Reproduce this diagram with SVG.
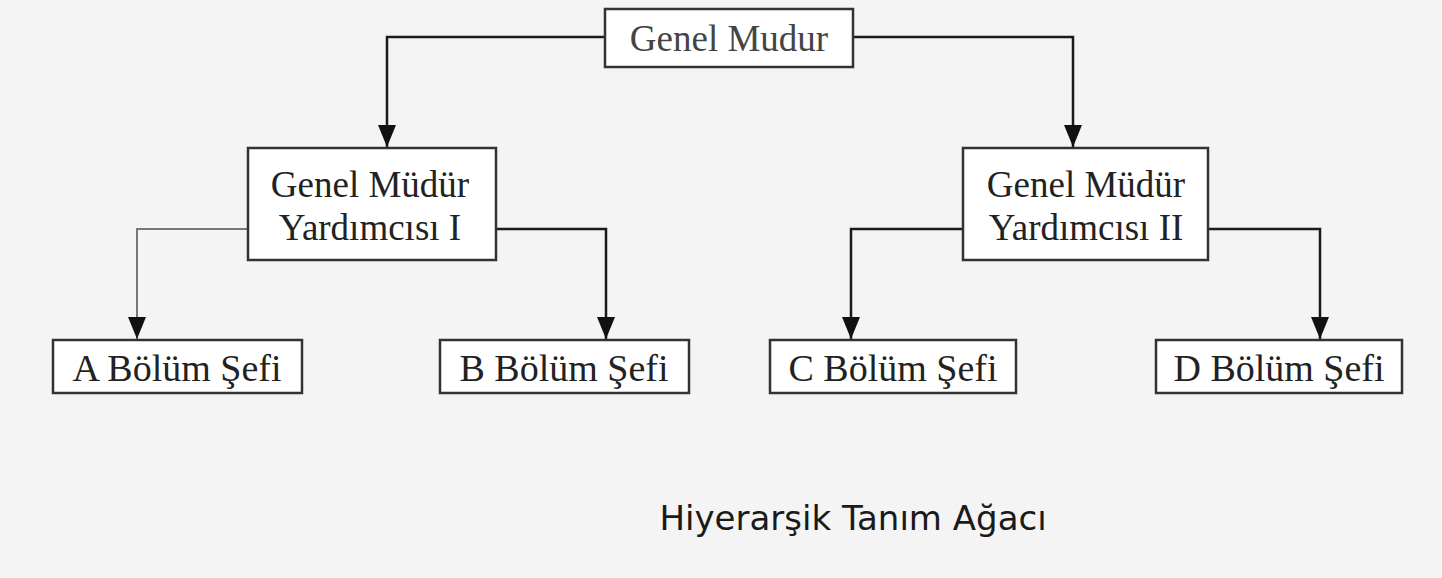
<svg xmlns="http://www.w3.org/2000/svg" width="1442" height="578" viewBox="0 0 1442 578">
  <style>
    .box { fill: #ffffff; stroke: #333333; stroke-width: 2.5; }
    .lbl { font-family: "Liberation Serif", "Times New Roman", serif; font-size: 37px; fill: #222222; text-anchor: middle; }
    .small { font-size: 38px; }
    .edge { fill: none; stroke: #1a1a1a; stroke-width: 2.5; }
    .edge.light { stroke: #777777; stroke-width: 2; }
    .cap { font-family: "DejaVu Sans", Verdana, sans-serif; font-size: 34px; fill: #1a1a1a; text-anchor: middle; }
  </style>
  <defs>
    <!-- arrowhead drawn pointing along +x so orient="auto" turns it with the line -->
    <marker id="arrow" markerWidth="24" markerHeight="20" refX="22" refY="10" orient="auto" markerUnits="userSpaceOnUse" viewBox="0 0 24 20">
      <path d="M0,1 L22,10 L0,19 Z" fill="#111111"/>
    </marker>
  </defs>
  <rect width="1442" height="578" fill="#f4f4f4"/>

  <g id="connectors">
    <path class="edge" d="M605,37 H387 V147" marker-end="url(#arrow)"/>
    <path class="edge" d="M853,37 H1073 V147" marker-end="url(#arrow)"/>
    <path class="edge light" d="M248,229 H137 V339" marker-end="url(#arrow)"/>
    <path class="edge" d="M496,229 H606 V339" marker-end="url(#arrow)"/>
    <path class="edge" d="M963,229 H851 V339" marker-end="url(#arrow)"/>
    <path class="edge" d="M1208,229 H1320 V339" marker-end="url(#arrow)"/>
  </g>

  <g id="genel-mudur">
    <rect class="box" x="605" y="9" width="248" height="58"/>
    <text class="lbl" x="729" y="51" style="fill:#444444">Genel Mudur</text>
  </g>
  <g id="gmy-1">
    <rect class="box" x="248" y="148" width="248" height="112"/>
    <text class="lbl" x="370" y="197">Genel Müdür</text>
    <text class="lbl" x="370" y="240">Yardımcısı I</text>
  </g>
  <g id="gmy-2">
    <rect class="box" x="963" y="148" width="245" height="112"/>
    <text class="lbl" x="1086" y="197">Genel Müdür</text>
    <text class="lbl" x="1086" y="240">Yardımcısı II</text>
  </g>
  <g id="a-sefi">
    <rect class="box" x="53" y="340" width="249" height="53"/>
    <text class="lbl small" x="177" y="381">A Bölüm Şefi</text>
  </g>
  <g id="b-sefi">
    <rect class="box" x="440" y="340" width="249" height="53"/>
    <text class="lbl small" x="564" y="381">B Bölüm Şefi</text>
  </g>
  <g id="c-sefi">
    <rect class="box" x="770" y="340" width="246" height="53"/>
    <text class="lbl small" x="893" y="381">C Bölüm Şefi</text>
  </g>
  <g id="d-sefi">
    <rect class="box" x="1156" y="340" width="246" height="53"/>
    <text class="lbl small" x="1279" y="381">D Bölüm Şefi</text>
  </g>

  <text class="cap" x="853" y="530">Hiyerarşik Tanım Ağacı</text>
</svg>
